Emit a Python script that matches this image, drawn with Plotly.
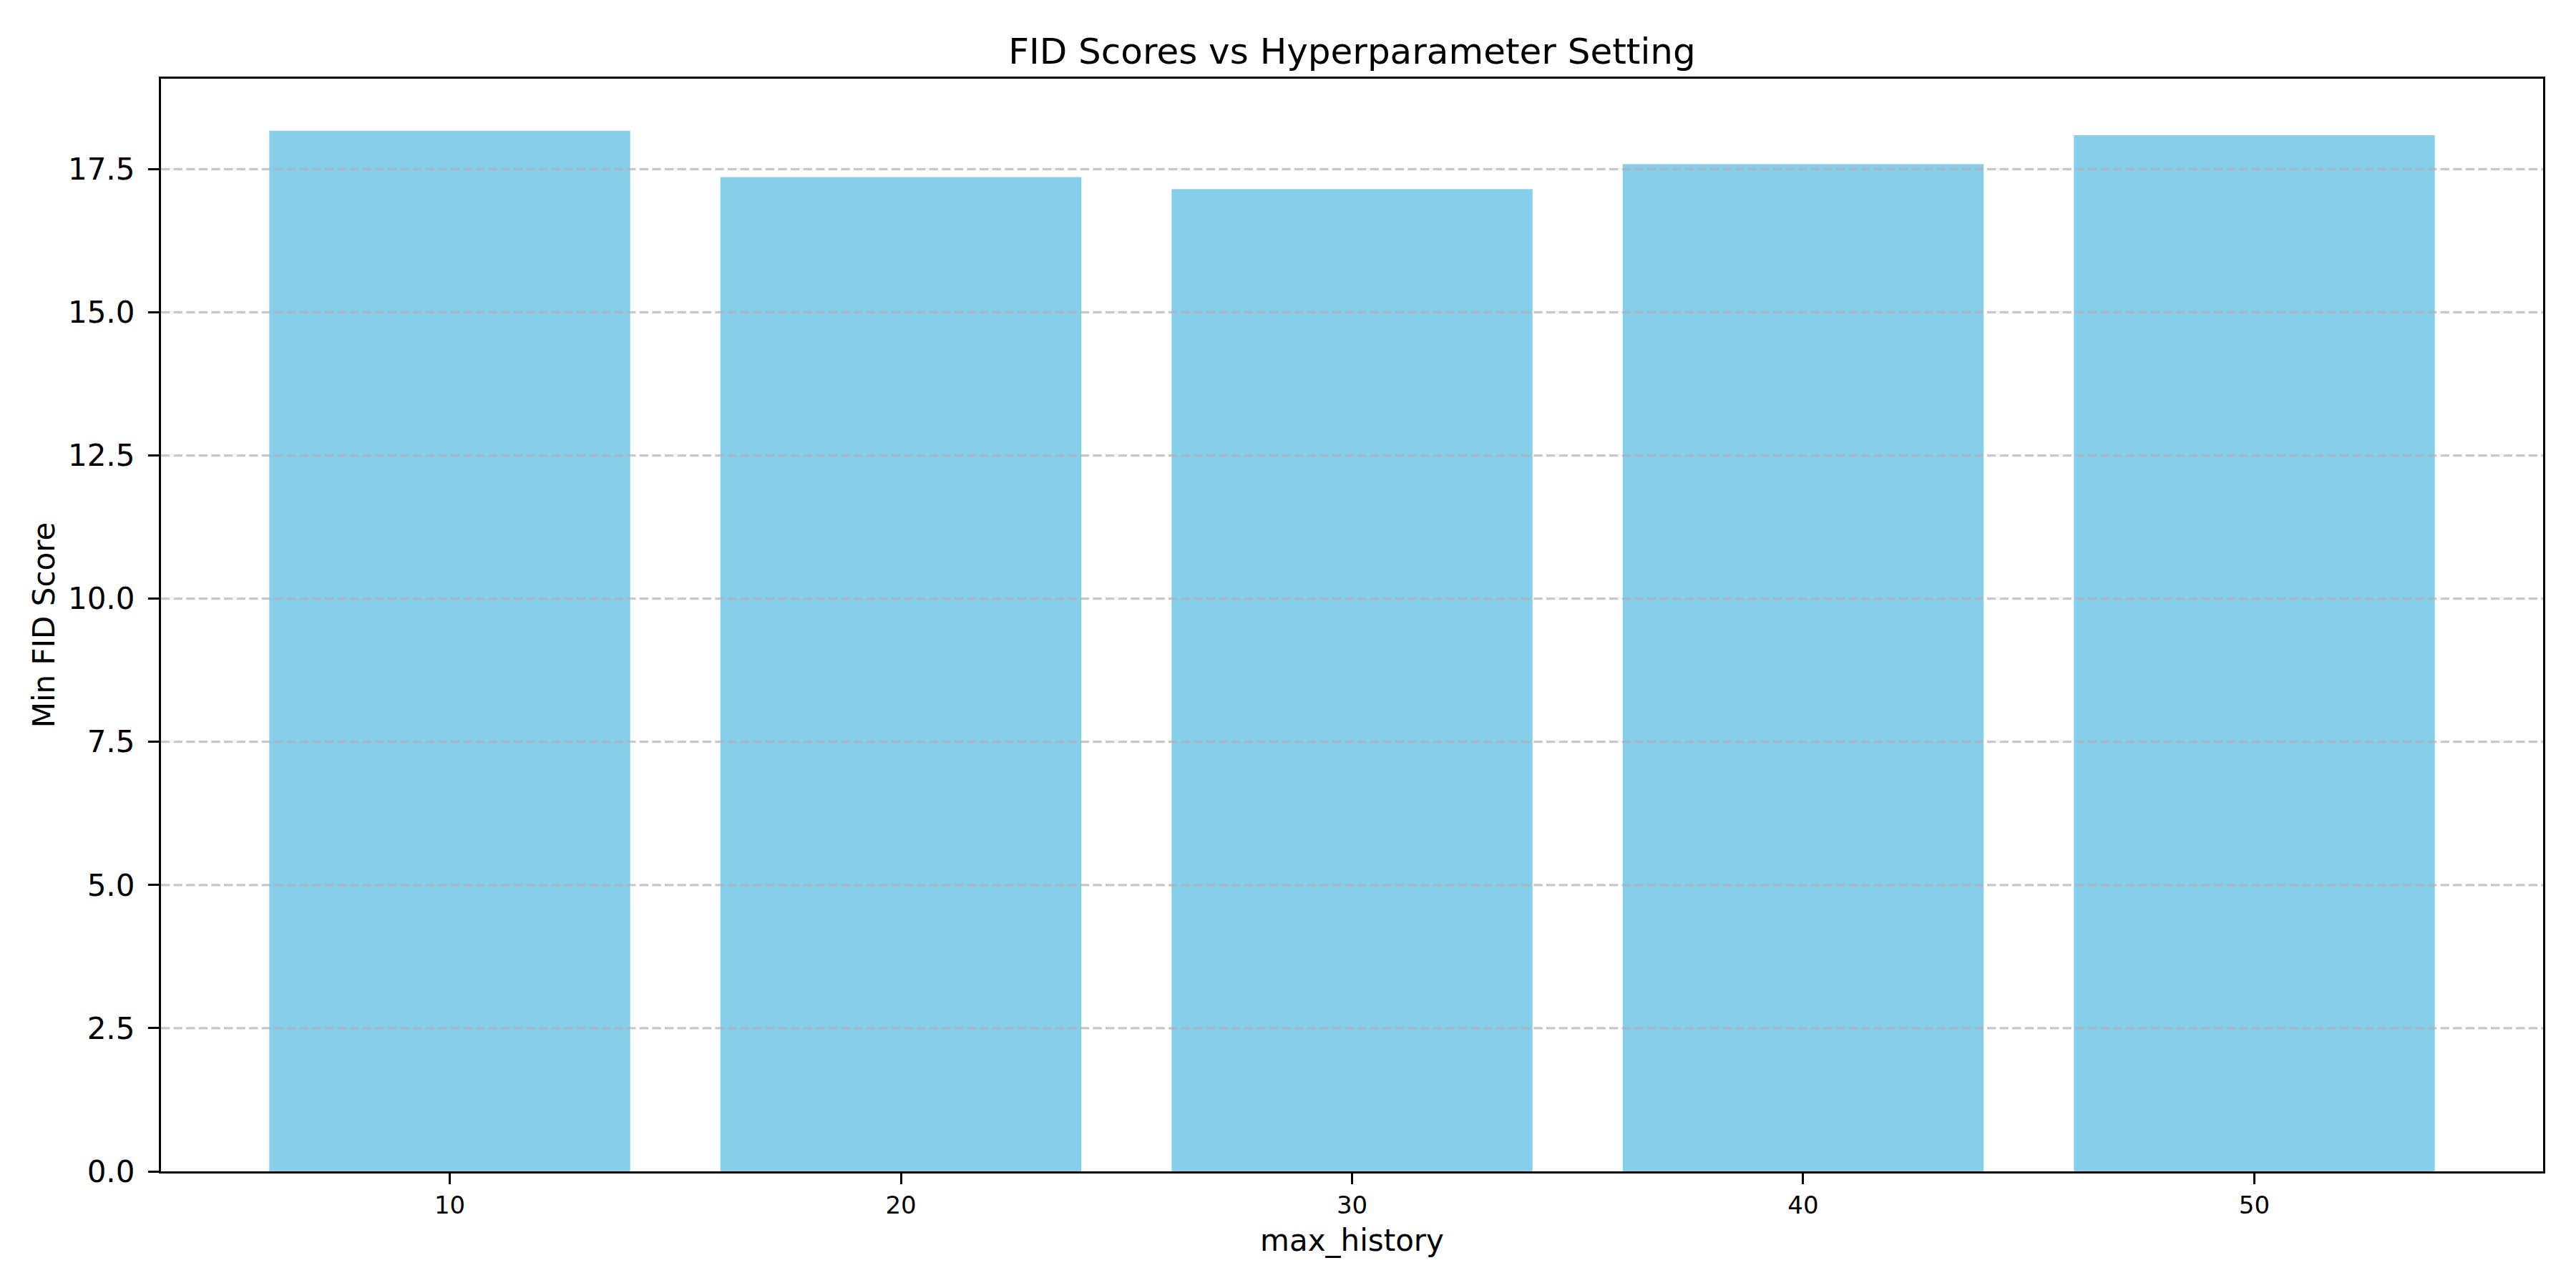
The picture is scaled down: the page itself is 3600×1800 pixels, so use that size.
"""FID score vs max_history bar chart."""

import plotly.graph_objects as go

max_history = [10, 20, 30, 40, 50]
min_fid = [18.17, 17.36, 17.15, 17.59, 18.09]
y_ticks = [0.0, 2.5, 5.0, 7.5, 10.0, 12.5, 15.0, 17.5]

BAR_COLOR = "#87CEEB"
GRID_COLOR = "rgba(176,176,176,0.7)"
FONT = "DejaVu Sans"
LW = 3.3
# the browser puts an 8px margin round the body, so the figure is shrunk by that
PAGE_PAD = 8

fig = go.Figure()
fig.add_trace(go.Bar(
    x=max_history, y=min_fid, width=8,
    marker=dict(color=BAR_COLOR, line=dict(width=0)),
))

# matplotlib draws the grid above the bars
for v in y_ticks[1:]:
    fig.add_hline(y=v, line=dict(color=GRID_COLOR, width=LW, dash="12.3px,5.3px"), layer="above")

y_max = max(min_fid) * 1.05
H = 1800 - PAGE_PAD
fig.update_layout(
    width=3600 - PAGE_PAD, height=H,
    margin=dict(l=225 - PAGE_PAD, r=46, t=110 - PAGE_PAD, b=163),
    paper_bgcolor="white", plot_bgcolor="white",
    font=dict(family=FONT, color="black"),
    showlegend=False,
    title=dict(
        text="FID Scores vs Hyperparameter Setting",
        font=dict(size=50, color="black"),
        x=0.5, xref="paper", xanchor="center",
        y=1 - (71 - PAGE_PAD) / H, yref="container", yanchor="middle",
    ),
    xaxis=dict(
        range=[3.6, 56.4], tickvals=max_history, ticktext=[str(v) for v in max_history],
        showgrid=False, zeroline=False,
        showline=True, linecolor="black", linewidth=LW, mirror=True,
        ticks="outside", ticklen=15, tickwidth=LW, tickcolor="black",
        tickfont=dict(size=34, color="black"),
        title=dict(text="max_history", font=dict(size=42, color="black"), standoff=16),
        layer="above traces",
    ),
    yaxis=dict(
        range=[0, y_max], tickvals=y_ticks, ticktext=[f"{v:.1f}" for v in y_ticks],
        showgrid=False, zeroline=False,
        showline=True, linecolor="black", linewidth=LW, mirror=True,
        ticks="outside", ticklen=15, tickwidth=LW, tickcolor="black",
        tickfont=dict(size=42, color="black"),
        ticklabelstandoff=10,
        title=dict(text="Min FID Score", font=dict(size=42, color="black"), standoff=6),
        layer="above traces",
    ),
)

fig.write_html("out.html")
